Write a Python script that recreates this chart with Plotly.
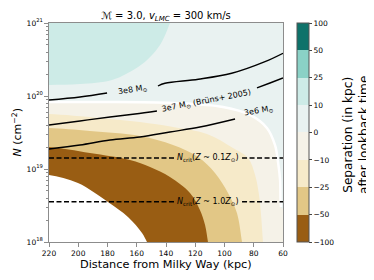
import plotly.graph_objects as go

# ---------------- axes ----------------
x_ticks = [220, 200, 180, 160, 140, 120, 100, 80, 60]
y_tick_vals = [1e18, 1e19, 1e20, 1e21]
y_tick_text = ["10<sup>18</sup>", "10<sup>19</sup>", "10<sup>20</sup>", "10<sup>21</sup>"]
X_RANGE = [220, 60]
LOGN_RANGE = [18, 21]

# ---------------- colour levels (separation in kpc) ----------------
sep_levels = [-100, -50, -25, -10, 0, 10, 25, 50, 100]
sep_colors = ["rgb(153,93,19)", "rgb(226,199,134)", "rgb(246,234,201)", "rgb(245,242,232)",
              "rgb(233,242,241)", "rgb(205,235,231)", "rgb(138,209,198)", "rgb(14,114,106)"]

# ---------------- level boundaries: distance (kpc), log10 N ----------------
b_p10_d = [220, 198.8, 176.9, 159.1, 150.9, 144.1, 140.0, 137.3, 133.4]
b_p10_logN = [20.151, 20.164, 20.219, 20.397, 20.534, 20.699, 20.863, 21.0, 21.2]

b_zero_d = [220, 185.1, 135.2, 101.0, 82.6, 71.0, 65.5, 63.4, 62.0, 61.7, 61.4, 60.0, 52.0]
b_zero_logN = [19.918, 19.918, 19.904, 19.849, 19.740, 19.562, 19.329, 19.096, 18.849, 18.575, 18.479, 18.452, 18.45]

b_m10_d = [220, 185.1, 157.8, 135.2, 112.0, 94.2, 83.9, 79.1, 76.4, 75.0, 73.7, 73.0]
b_m10_logN = [19.753, 19.699, 19.644, 19.575, 19.479, 19.288, 19.151, 18.918, 18.644, 18.370, 18.0, 17.8]

b_m25_d = [220, 192.0, 157.8, 135.2, 118.1, 106.5, 97.6, 91.5, 88.0, 86.2]
b_m25_logN = [19.562, 19.521, 19.452, 19.329, 19.164, 18.945, 18.671, 18.397, 18.0, 17.8]

b_m50_d = [220, 192.0, 164.6, 150.9, 137.3, 123.6, 116.8, 113.3, 111.3, 109.6]
b_m50_logN = [19.301, 19.219, 19.123, 19.027, 18.890, 18.671, 18.438, 18.233, 18.0, 17.8]

b_m100_d = [220, 200.2, 179.7, 166.0, 156.4, 153.0, 147.5]
b_m100_logN = [18.918, 18.808, 18.548, 18.342, 18.123, 18.0, 17.8]

# ---------------- mass contour lines ----------------
m3e8_d = [220, 198.8, 180.3, None, 145.5, 140.7, 117.9, 95.1, 72.3, 60]
m3e8_logN = [19.945, 19.986, 20.041, None, 20.137, 20.174, 20.229, 20.311, 20.470, 20.585]
m3e7_d = [220, 198.8, 178.3, 161.2, 146.2, None, 77.8, 68.9, 60]
m3e7_logN = [19.603, 19.658, 19.712, 19.753, 19.795, None, 20.110, 20.178, 20.247]
m3e6_d = [220, 198.8, 178.3, 157.8, 137.3, 116.8, 92.8]
m3e6_logN = [19.274, 19.329, 19.397, 19.438, 19.507, 19.575, 19.685]

# ---------------- critical column densities ----------------
ncrit_01 = 1.415e19
ncrit_10 = 3.56e18
ncrit_d = [220, 133.8, None, 88.0, 60]

# ---------------- helpers (closing polygons outside the axes) ----------------
left_mid = X_RANGE[0] + 15
left_out = X_RANGE[0] + 30
top_out = LOGN_RANGE[1] + 0.6
bottom_out = LOGN_RANGE[0] - 0.6


def N(vals):
    return [None if v is None else 10.0 ** v for v in vals]


def fill_trace(xs, ys, color):
    return go.Scatter(x=xs, y=N(ys), fill="toself", fillcolor=color, mode="lines",
                      line=dict(width=0, shape="spline", smoothing=1), hoverinfo="skip",
                      showlegend=False)


def below(d, ln, color):
    xs = [left_out, left_mid] + d + [d[-1], left_out]
    ys = [ln[0], ln[0]] + ln + [bottom_out, bottom_out]
    return fill_trace(xs, ys, color)


def above(d, ln, color):
    xs = [left_out, left_mid] + d + [d[-1] - 8, left_out]
    ys = [ln[0], ln[0]] + ln + [top_out, top_out]
    return fill_trace(xs, ys, color)


def line(d, ln, color="black", width=1.4, dash=None):
    return go.Scatter(x=d, y=N(ln), mode="lines", hoverinfo="skip", showlegend=False,
                      line=dict(color=color, width=width, dash=dash, shape="spline", smoothing=1))


fig = go.Figure()
fig.add_trace(above(b_p10_d, b_p10_logN, sep_colors[5]))
fig.add_trace(below(b_zero_d, b_zero_logN, sep_colors[3]))
fig.add_trace(below(b_m10_d, b_m10_logN, sep_colors[2]))
fig.add_trace(below(b_m25_d, b_m25_logN, sep_colors[1]))
fig.add_trace(below(b_m50_d, b_m50_logN, sep_colors[0]))
fig.add_trace(below(b_m100_d, b_m100_logN, "white"))
fig.add_trace(line(b_zero_d[:-2], b_zero_logN[:-2], color="white", width=2.5))

fig.add_trace(line(m3e8_d, m3e8_logN))
fig.add_trace(line(m3e7_d, m3e7_logN))
fig.add_trace(line(m3e6_d, m3e6_logN))

for nc in (ncrit_01, ncrit_10):
    fig.add_trace(go.Scatter(x=ncrit_d, y=[nc, nc, None, nc, nc], mode="lines",
                             line=dict(color="black", width=1.3, dash="5px,2.5px"),
                             hoverinfo="skip", showlegend=False))

# ---------------- page geometry (page body has an 8px offset) ----------------
OFF = 8
W, H = 374 - OFF, 280 - OFF
PL, PR, PT, PB = 49, 283, 23, 242          # plot area in page pixels
PW, PH = PR - PL, PB - PT

# colour bar
nb = len(sep_colors)
cscale = []
for i, c in enumerate(sep_colors):
    cscale.append([i / nb, c])
    cscale.append([(i + 1) / nb, c])
fig.add_trace(go.Scatter(
    x=[140], y=[1e19], mode="markers", hoverinfo="skip", showlegend=False,
    marker=dict(size=1, opacity=0, color=[0], cmin=0, cmax=nb, colorscale=cscale,
                showscale=True,
                colorbar=dict(tickmode="array", tickvals=list(range(nb + 1)),
                              ticktext=[str(v).replace("-", "\u2212") for v in sep_levels],
                              ticks="outside", ticklen=3, tickcolor="#444",
                              tickfont=dict(size=7.5, color="black"),
                              outlinewidth=1, outlinecolor="#555",
                              thickness=12, len=1, lenmode="fraction",
                              x=(297 - PL) / PW, xanchor="left", xpad=0, ypad=0,
                              y=0.5, yanchor="middle"))))

lab_font = dict(size=8, color="black", family="DejaVu Sans")
annos = [
    dict(x=162.6, y=20.082, text="3e8 M<sub>⊙</sub>", textangle=-9),
    dict(x=112.0, y=19.932, text="3e7 M<sub>⊙</sub> (Brüns+ 2005)", textangle=-11),
    dict(x=76.4, y=19.795, text="3e6 M<sub>⊙</sub>", textangle=-10),
    dict(x=111.3, y=19.151, text="<i>N</i><sub>crit</sub>(<i>Z</i> ~ 0.1<i>Z</i><sub>⊙</sub>)", textangle=0),
    dict(x=111.3, y=18.552, text="<i>N</i><sub>crit</sub>(<i>Z</i> ~ 1.0<i>Z</i><sub>⊙</sub>)", textangle=0),
]
for a in annos:
    fig.add_annotation(xref="x", yref="y", showarrow=False, font=lab_font,
                       xanchor="center", yanchor="middle", **a)

# axis and colour-bar titles
fig.add_annotation(xref="paper", yref="paper", x=0.5, y=(PB - 264) / PH,
                   text="Distance from Milky Way (kpc)", showarrow=False,
                   font=dict(size=11.3, color="black"), xanchor="center", yanchor="middle")
fig.add_annotation(xref="paper", yref="paper", x=(17 - PL) / PW, y=0.5,
                   text="<i>N</i> (cm<sup>−2</sup>)", textangle=-90, showarrow=False,
                   font=dict(size=11, color="black"), xanchor="center", yanchor="middle")
fig.add_annotation(xref="paper", yref="paper", x=(356 - PL) / PW, y=(PB - 135) / PH,
                   text="Separation (in kpc)<br>after lookback time", textangle=-90,
                   showarrow=False, font=dict(size=12.2, color="black"),
                   xanchor="center", yanchor="middle")

frame = "#8c8c8c"
minor_vals = [m * 10.0 ** e for e in (18, 19, 20) for m in range(2, 10)]
fig.update_layout(
    width=W, height=H,
    margin=dict(l=PL - OFF, r=W - (PR - OFF), t=PT - OFF, b=H - (PB - OFF), autoexpand=False),
    paper_bgcolor="white", plot_bgcolor=sep_colors[4],
    font=dict(family="DejaVu Sans", color="black"),
    title=dict(text="ℳ = 3.0, <i>v</i><sub><i>LMC</i></sub> = 300 km/s",
               x=0.5, xref="paper", xanchor="center",
               y=1 - (15 - OFF) / H, yref="container", yanchor="middle",
               font=dict(size=10, color="black")),
    xaxis=dict(range=X_RANGE, tickmode="array", tickvals=x_ticks, automargin=False,
               ticks="outside", ticklen=3.5, tickcolor=frame, tickwidth=1,
               tickfont=dict(size=7.5), showgrid=False, zeroline=False,
               showline=True, linecolor=frame, linewidth=1.3, mirror=True),
    yaxis=dict(type="log", range=LOGN_RANGE, tickmode="array", tickvals=y_tick_vals,
               automargin=False,
               ticktext=y_tick_text, ticks="outside", ticklen=3.5, tickcolor=frame,
               tickwidth=1, tickfont=dict(size=7.5), showgrid=False, zeroline=False,
               showline=True, linecolor=frame, linewidth=1.3, mirror=True,
               minor=dict(ticks="outside", ticklen=2, tickcolor=frame,
                          tickvals=minor_vals)),
)

fig.write_html("out.html")
